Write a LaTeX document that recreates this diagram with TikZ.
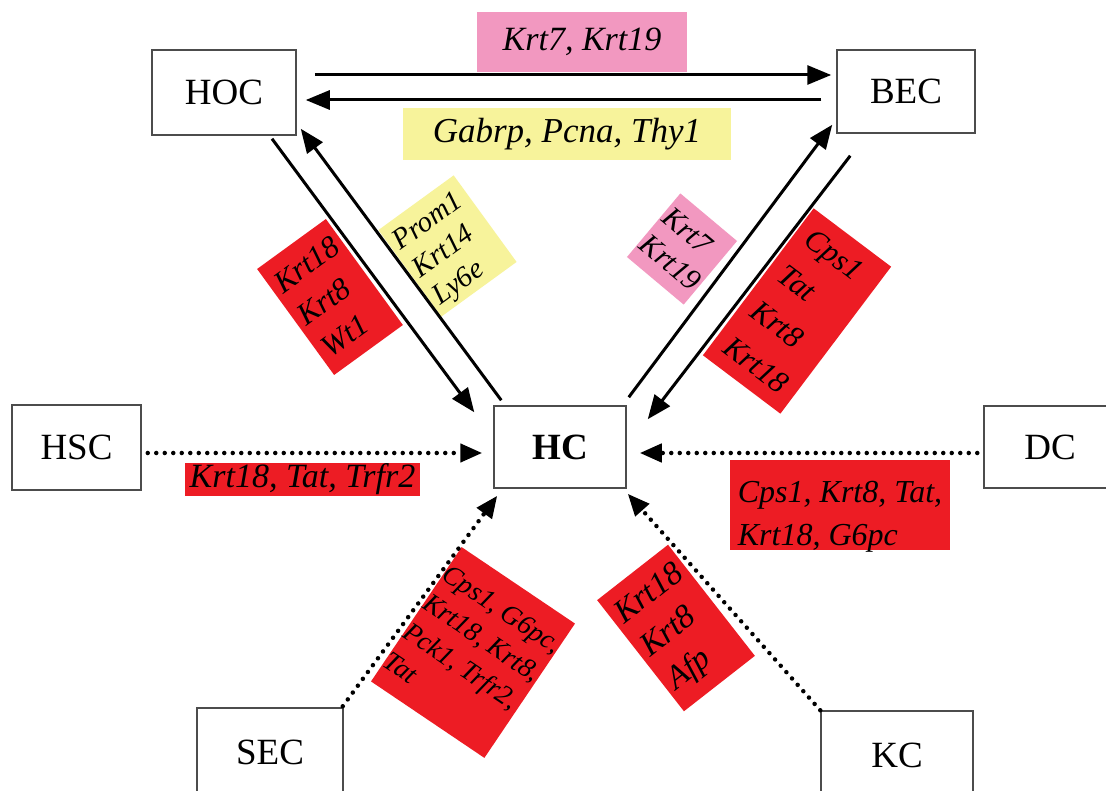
\documentclass[tikz,border=0pt]{standalone}
\usepackage{fontspec}
\setmainfont{Liberation Serif}
\usetikzlibrary{arrows.meta}
\definecolor{gred}{RGB}{237,28,36}
\definecolor{gpink}{RGB}{242,152,192}
\definecolor{gyellow}{RGB}{247,243,155}
\begin{document}
\begin{tikzpicture}[x=1pt,y=-1pt,
 cell/.style={draw=black!70, line width=1.5pt, fill=white, inner sep=0pt, font=\fontsize{37}{44}\selectfont},
 gene/.style={inner sep=0pt, align=left},
 solidarr/.style={line width=3pt, -{Triangle[length=24pt,width=19pt]}},
 dotarr/.style={line width=4.5pt, line cap=round, dash pattern=on 0pt off 8.5pt, -{Triangle[length=22pt,width=18pt]}},
]
\useasboundingbox (0,0) rectangle (1106,791);
\clip (0,0) rectangle (1106,791);
\fill[white] (0,0) rectangle (1106,791);

% cells
\node[cell, minimum width=144, minimum height=85] (HOC) at (224,92.5) {HOC};
\node[cell, minimum width=138, minimum height=83] (BEC) at (906,91.5) {BEC};
\node[cell, minimum width=132, minimum height=82, font=\bfseries\fontsize{37}{44}\selectfont] (HC) at (560,447) {HC};
\node[cell, minimum width=129, minimum height=85] (HSC) at (76.5,447.5) {HSC};
\node[cell, minimum width=132, minimum height=82] (DC) at (1050,447) {DC};
\node[cell, minimum width=146, minimum height=88] (SEC) at (270,752) {SEC};
\node[cell, minimum width=152, minimum height=88] (KC) at (897,755) {KC};

% labels
\node[gene, fill=gpink, minimum width=210, minimum height=60, font=\itshape\fontsize{34}{40}\selectfont] (l1) at (582,42) {Krt7, Krt19};
\node[gene, fill=gyellow, minimum width=328, minimum height=52, font=\itshape\fontsize{35}{40}\selectfont] (l2) at (567,134) {Gabrp, Pcna, Thy1};
\node[gene, fill=gred, minimum width=235, minimum height=33, font=\itshape\fontsize{34}{40}\selectfont] (l3) at (302.5,479.5) {Krt18, Tat, Trfr2};
\node[gene, fill=gred, minimum width=220, minimum height=90] (l4) at (840,505) {};
\node[gene, font=\itshape\fontsize{32}{43}\selectfont] (l4t) at ([shift={(0,12)}]l4.center) {Cps1, Krt8, Tat,\\Krt18, G6pc};
\node[gene, fill=gred, rotate=36, minimum width=85, minimum height=131, font=\itshape\fontsize{31}{40}\selectfont] (l5) at (330,297) {Krt18\\Krt8\\Wt1};
\node[gene, fill=gyellow, rotate=36, minimum width=93, minimum height=107] (l6) at (447.5,246) {};
\node[gene, rotate=36, font=\itshape\fontsize{29}{34}\selectfont] (l6t) at ([shift={(1,4)}]l6.center) {Prom1\\Krt14\\Ly6e};
\node[gene, fill=gpink, rotate=-40, minimum width=74, minimum height=83, font=\itshape\fontsize{30}{35}\selectfont] (l7) at (682,249) {Krt7\\Krt19};
\node[gene, fill=gred, rotate=-37, minimum width=97, minimum height=184, font=\itshape\fontsize{31}{45}\selectfont] (l8) at (797,311) {Cps1\\Tat\\Krt8\\Krt18};
\node[gene, fill=gred, rotate=-34, minimum width=133, minimum height=162, font=\itshape\fontsize{27.5}{35}\selectfont] (l9) at (473,652.5) {Cps1, G6pc,\\Krt18, Krt8,\\Pck1, Trfr2,\\Tat};
\node[gene, fill=gred, rotate=38, minimum width=90, minimum height=141, font=\itshape\fontsize{33}{42}\selectfont] (l10) at (676,628) {Krt18\\Krt8\\Afp};

% solid arrows
\draw[solidarr] ([shift={(18,-17.5)}]HOC.east) -- ([shift={(-5,-16.5)}]BEC.west);
\draw[solidarr] ([shift={(-15,8.5)}]BEC.west) -- ([shift={(9,7.5)}]HOC.east);
\draw[solidarr] ([shift={(48,3)}]HOC.south) -- ([shift={(-19,7)}]HC.north west);
\draw[solidarr] ([shift={(8,-5)}]HC.north west) -- ([shift={(4,-7)}]HOC.south east);
\draw[solidarr] ([shift={(2,-8)}]HC.north east) -- ([shift={(-4,-9)}]BEC.south west);
\draw[solidarr] ([shift={(14,22)}]BEC.south west) -- ([shift={(21,14)}]HC.north east);

% dotted arrows
\draw[dotarr] ([shift={(6,5.5)}]HSC.east) -- ([shift={(-11,6)}]HC.west);
\draw[dotarr] ([shift={(-6,6)}]DC.west) -- ([shift={(13,6)}]HC.east);
\draw[dotarr] ([shift={(-1,-1)}]SEC.north east) -- ([shift={(4,7)}]HC.south west);
\draw[dotarr] (KC.north west) -- ([shift={(1,5)}]HC.south east);
\end{tikzpicture}
\end{document}
